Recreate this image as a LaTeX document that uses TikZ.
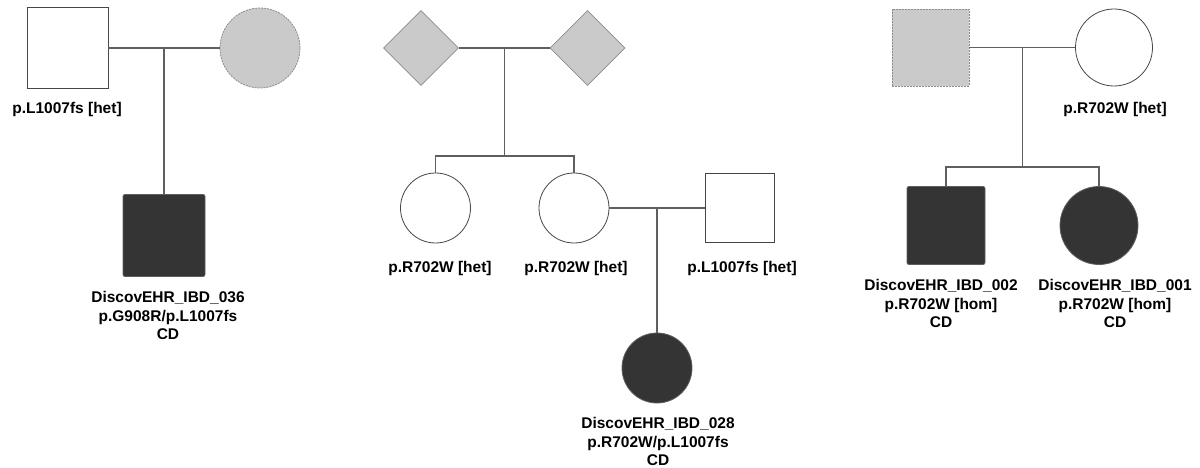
\documentclass[tikz,border=0pt]{standalone}
\usepackage{fontspec}
\setmainfont{Liberation Sans}
\usetikzlibrary{shapes.geometric,calc}

\definecolor{grayfill}{RGB}{202,202,202}
\definecolor{grayedge}{RGB}{140,140,140}
\definecolor{darkfill}{RGB}{52,52,52}
\definecolor{whiteedge}{RGB}{70,70,70}
\definecolor{linkcol}{RGB}{95,95,95}

\tikzset{
  person/.style={inner sep=0pt, line width=0.8pt},
  malebox/.style={person, rectangle, minimum size=#1},
  femalecirc/.style={person, circle, minimum size=#1},
  sexunknown/.style={person, diamond, minimum width=#1, minimum height=#1},
  unaffected/.style={fill=white, draw=whiteedge},
  untested/.style={fill=grayfill, draw=grayedge, dash pattern=on 2pt off 1pt},
  unknowngray/.style={fill=grayfill, draw=grayedge},
  affected/.style={fill=darkfill, draw=darkfill!80, rounded corners=2pt},
  link/.style={draw=linkcol, line width=1.3pt},
  % anchored on the baseline of the last line of text
  caption/.style={font=\bfseries\fontsize{15.5}{18.5}\selectfont, align=center, anchor=base, inner sep=0pt}
}

\begin{document}
\begin{tikzpicture}[x=1pt, y=-1pt]
\useasboundingbox (0,0) rectangle (1200,468);

% ---------- Family 1 ----------
\node[malebox=81, unaffected] (f1dad) at (67.5,48) {};
\node[femalecirc=80, untested] (f1mom) at (260,48) {};
\node[malebox=82, affected] (f1kid) at (164,235.5) {};
\coordinate (f1m) at ($(f1dad.east)!0.5!(f1mom.west)$);
\draw[link] (f1dad.east) -- (f1mom.west);
\draw[link] (f1m) -- (f1kid.north);
\node[caption] (f1dadl) at (67,114) {p.L1007fs [het]};
\node[caption] (f1kidl) at (168,339.5) {DiscovEHR\_IBD\_036\\p.G908R/p.L1007fs\\CD};

% ---------- Family 2 ----------
\node[sexunknown=75, unknowngray] (f2gp1) at (421,48) {};
\node[sexunknown=75, unknowngray] (f2gp2) at (587.5,48) {};
\coordinate (f2m) at ($(f2gp1.east)!0.5!(f2gp2.west)$);
\draw[link] (f2gp1.east) -- (f2gp2.west);
\node[femalecirc=70, unaffected] (f2aunt) at (435.5,208) {};
\node[femalecirc=70, unaffected] (f2mom) at (574,208) {};
\node[malebox=69, unaffected] (f2dad) at (739.5,208) {};
\coordinate (f2s) at (f2m |- 0,156);
\draw[link] (f2m) -- (f2s);
\draw[link] (f2aunt.north) |- (f2s) -| (f2mom.north);
\coordinate (f2m2) at ($(f2mom.east)!0.5!(f2dad.west)$);
\draw[link] (f2mom.east) -- (f2dad.west);
\node[femalecirc=70, affected] (f2kid) at (657,368) {};
\draw[link] (f2m2) -- (f2kid.north);
\node[caption] (f2auntl) at (440,272) {p.R702W [het]};
\node[caption] (f2moml) at (576,272) {p.R702W [het]};
\node[caption] (f2dadl) at (742,272) {p.L1007fs [het]};
\node[caption] (f2kidl) at (658,465.5) {DiscovEHR\_IBD\_028\\p.R702W/p.L1007fs\\CD};

% ---------- Family 3 ----------
\node[malebox=77, untested] (f3dad) at (930.5,47.5) {};
\node[femalecirc=77, unaffected] (f3mom) at (1114,47.5) {};
\coordinate (f3m) at ($(f3dad.east)!0.5!(f3mom.west)$);
\draw[link] (f3dad.east) -- (f3mom.west);
\node[malebox=78, affected] (f3son) at (946,225.5) {};
\node[femalecirc=78, affected] (f3dau) at (1099,225.5) {};
\coordinate (f3s) at (f3m |- 0,167);
\draw[link] (f3m) -- (f3s);
\draw[link] (f3son.north) |- (f3s) -| (f3dau.north);
\node[caption] (f3moml) at (1115,114) {p.R702W [het]};
\node[caption] (f3sonl) at (941,327.5) {DiscovEHR\_IBD\_002\\p.R702W [hom]\\CD};
\node[caption] (f3daul) at (1115,327.5) {DiscovEHR\_IBD\_001\\p.R702W [hom]\\CD};
\end{tikzpicture}
\end{document}
